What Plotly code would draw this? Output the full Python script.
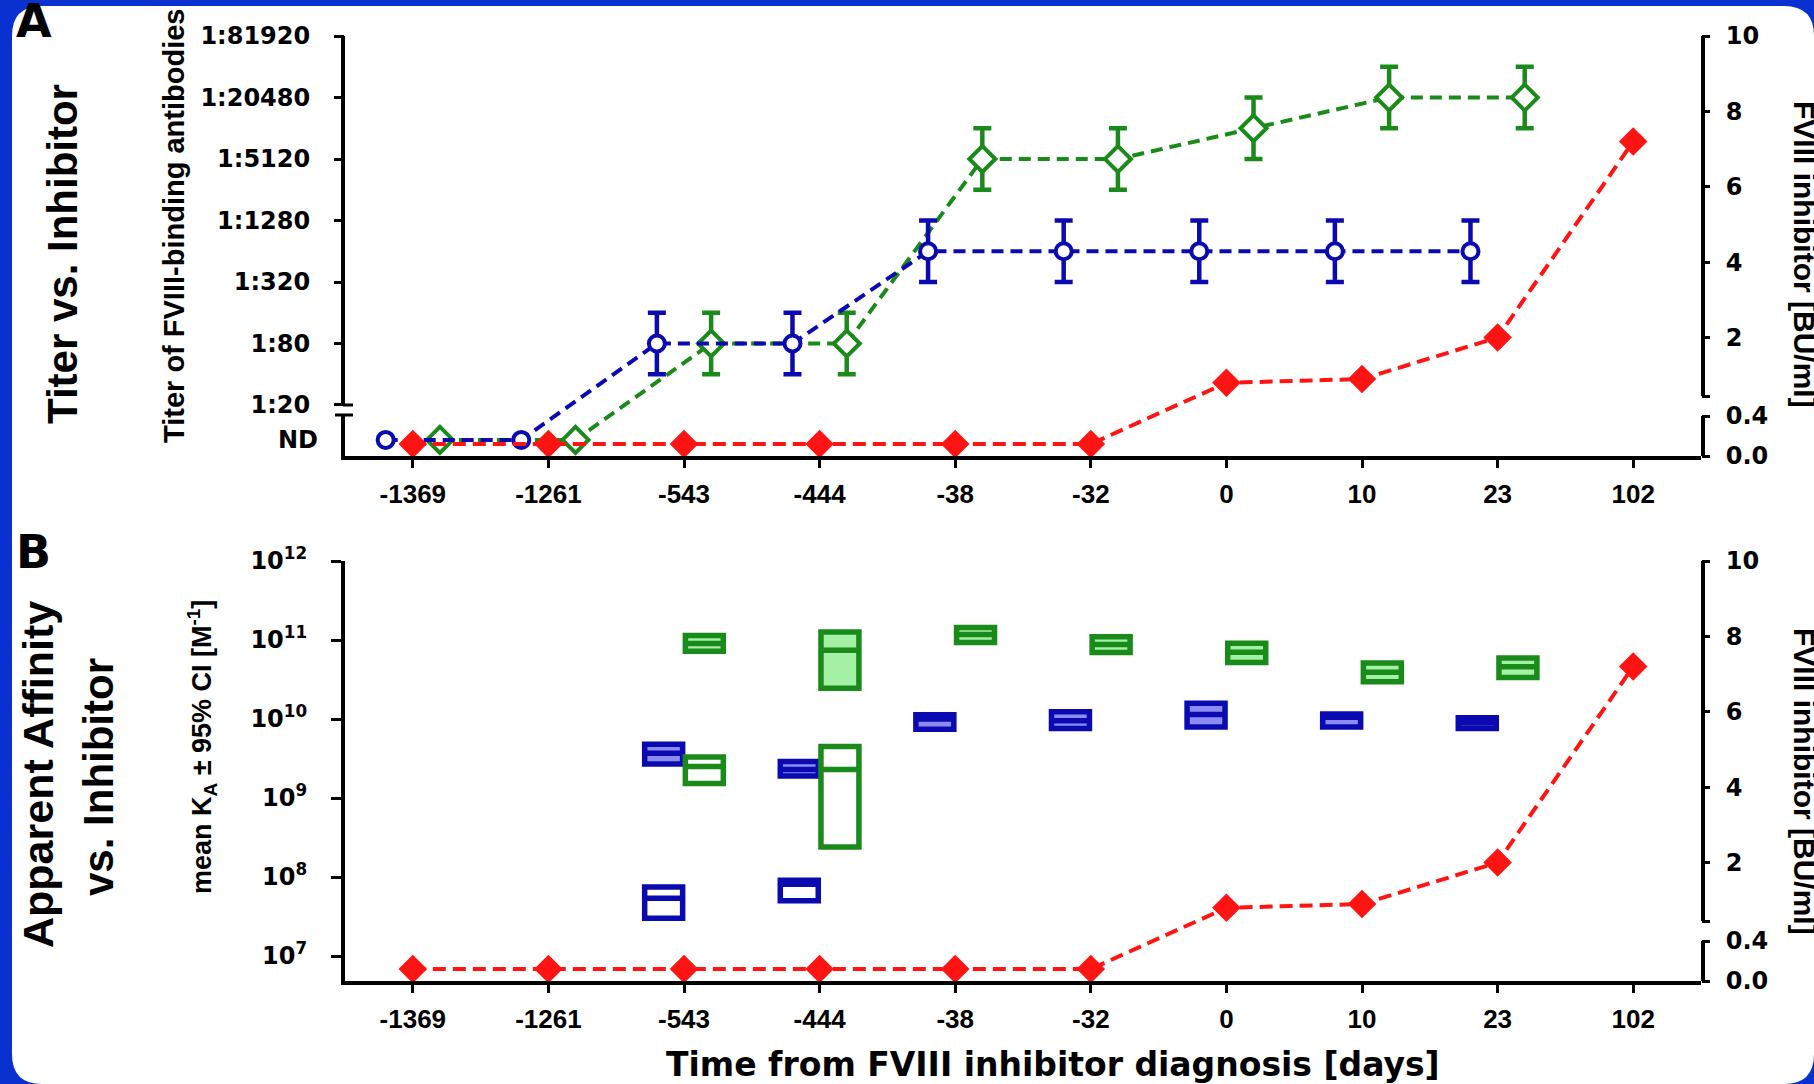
import math
import plotly.graph_objects as go

FIG_W, FIG_H = 1814, 1084

# ------------------------------------------------------------------ data
categories = ["-1369", "-1261", "-543", "-444", "-38", "-32", "0", "10", "23", "102"]

# Panel A: titer of FVIII-binding antibodies (reciprocal dilution); None = ND
titer_cats = ["-1369", "-1261", "-543", "-444", "-38", "-32", "0", "10", "23"]
titer_blue = [None, None, 80, 80, 640, 640, 640, 640, 640]
titer_blue_low = [None, None, 40, 40, 320, 320, 320, 320, 320]
titer_blue_high = [None, None, 160, 160, 1280, 1280, 1280, 1280, 1280]
titer_green = [None, None, 80, 80, 5120, 5120, 10240, 20480, 20480]
titer_green_low = [None, None, 40, 40, 2560, 2560, 5120, 10240, 10240]
titer_green_high = [None, None, 160, 160, 10240, 10240, 20480, 40960, 40960]

# FVIII inhibitor [BU/ml] (same series in both panels)
inhibitor = [0.12, 0.12, 0.12, 0.12, 0.12, 0.12, 0.8, 0.9, 2.0, 7.2]

titer_tickvals = [20, 80, 320, 1280, 5120, 20480, 81920]
titer_ticktext = ["1:20", "1:80", "1:320", "1:1280", "1:5120", "1:20480", "1:81920"]
inhib_tickvals = [0.0, 0.4, 2, 4, 6, 8, 10]
inhib_ticktext = ["0.0", "0.4", "2", "4", "6", "8", "10"]
ka_tickvals = [1e7, 1e8, 1e9, 1e10, 1e11, 1e12]
ka_ticktext = ["10<sup>7</sup>", "10<sup>8</sup>", "10<sup>9</sup>",
               "10<sup>10</sup>", "10<sup>11</sup>", "10<sup>12</sup>"]

# Panel B: apparent affinity KA, mean with 95% CI
ka_blue_fill_cats = ["-543", "-444", "-38", "-32", "0", "10", "23"]
ka_blue_fill_low = [2.7e9, 1.9e9, 7.4e9, 7.6e9, 7.9e9, 7.9e9, 7.6e9]
ka_blue_fill_mean = [3.7e9, 2.3e9, 1.0e10, 9.5e9, 1.14e10, 1.05e10, 9.0e9]
ka_blue_fill_high = [4.8e9, 2.9e9, 1.13e10, 1.24e10, 1.58e10, 1.16e10, 1.04e10]

ka_blue_open_cats = ["-543", "-444"]
ka_blue_open_low = [3.0e7, 5.0e7]
ka_blue_open_mean = [5.4e7, 8.1e7]
ka_blue_open_high = [7.5e7, 9.1e7]

ka_green_fill_cats = ["-543", "-444", "-38", "-32", "0", "10", "23"]
ka_green_fill_low = [7.2e10, 2.45e10, 9.3e10, 6.95e10, 5.2e10, 2.96e10, 3.35e10]
ka_green_fill_mean = [9.0e10, 7.4e10, 1.17e11, 8.8e10, 7.0e10, 3.9e10, 4.6e10]
ka_green_fill_high = [1.14e11, 1.26e11, 1.44e11, 1.1e11, 9.1e10, 5.1e10, 5.9e10]

ka_green_open_cats = ["-543", "-444"]
ka_green_open_low = [1.53e9, 2.4e8]
ka_green_open_mean = [2.5e9, 2.3e9]
ka_green_open_high = [3.3e9, 4.5e9]

# ------------------------------------------------------------------ style / layout constants
BLUE = "#0a0ab0"
GREEN = "#1a8a1a"
RED = "#ff1414"
BLUE_FILL = "#8c8cf4"
GREEN_FILL = "#a4f0a4"
FRAME_BLUE = "#0b30d0"

X_DOM = [345 / FIG_W, 1701 / FIG_W]
A_DOM = [1 - 456 / FIG_H, 1 - 36 / FIG_H]
B_DOM = [1 - 981 / FIG_H, 1 - 561 / FIG_H]
X_RANGE = [-0.5, 9.5]
A_LOG_RANGE = [0.8017, 4.9134]
B_LOG_RANGE = [6.684, 12.0]
ND_LEVEL = 9.1          # where "ND" is drawn, below the axis break
LEFT_GAP = 10 / 420     # size of the left-axis break (fraction of axis)
PT_OFF = 0.2            # blue left / green right of the category tick
BOX_OFF = 0.15
BOX_W = 0.28

# broken right axis: 0-0.4 lower segment, 0.45-10 upper segment
LOW_TOP, UP_BOTTOM, TOP = 0.4, 0.45, 10.0
LOW_FRAC, UP_FRAC = 40 / 420, 60 / 420


def inh(v):
    if v <= LOW_TOP:
        return v / LOW_TOP * LOW_FRAC
    return UP_FRAC + (v - UP_BOTTOM) / (TOP - UP_BOTTOM) * (1 - UP_FRAC)


def logfrac(v, rng):
    return (math.log10(v) - rng[0]) / (rng[1] - rng[0])


def px(x):
    return x / FIG_W


def py(y):
    return 1 - y / FIG_H


cat_idx = {c: i for i, c in enumerate(categories)}

TICKFONT = dict(family="DejaVu Sans", size=24, color="black", weight="bold")
XTICKFONT = dict(family="Liberation Sans, Arial", size=26, color="black", weight="bold")
SANS = "Liberation Sans, Arial"

fig = go.Figure()


def titer_series(vals, lows, highs, color, symbol, size, off):
    xs = [cat_idx[c] + off for c in titer_cats]
    ys = [v if v is not None else ND_LEVEL for v in vals]
    fig.add_trace(go.Scatter(x=xs, y=ys, mode="lines", xaxis="x", yaxis="y",
                             line=dict(color=color, width=4, dash="12px,7px"),
                             hoverinfo="skip"))
    mx = [x for x, v in zip(xs, vals) if v is not None]
    my = [v for v in vals if v is not None]
    ehi = [h - v for v, h in zip(vals, highs) if v is not None]
    elo = [v - l for v, l in zip(vals, lows) if v is not None]
    fig.add_trace(go.Scatter(x=mx, y=my, mode="markers", xaxis="x", yaxis="y",
                             marker=dict(symbol=symbol, size=size, color="white",
                                         line=dict(color=color, width=4)),
                             error_y=dict(type="data", symmetric=False, array=ehi,
                                          arrayminus=elo, color=color,
                                          thickness=4.5, width=9),
                             hoverinfo="skip"))
    nx = [x for x, v in zip(xs, vals) if v is None]
    ny = [ND_LEVEL for v in vals if v is None]
    fig.add_trace(go.Scatter(x=nx, y=ny, mode="markers", xaxis="x", yaxis="y",
                             marker=dict(symbol=symbol, size=size, color="white",
                                         line=dict(color=color, width=4)),
                             hoverinfo="skip"))


titer_series(titer_green, titer_green_low, titer_green_high, GREEN, "diamond", 20, PT_OFF)
titer_series(titer_blue, titer_blue_low, titer_blue_high, BLUE, "circle", 16, -PT_OFF)

for xa, ya in (("x", "y2"), ("x2", "y4")):
    fig.add_trace(go.Scatter(x=list(range(len(categories))),
                             y=[inh(v) for v in inhibitor],
                             mode="lines+markers", xaxis=xa, yaxis=ya,
                             line=dict(color=RED, width=4, dash="13px,7px"),
                             marker=dict(symbol="diamond", size=22, color=RED),
                             hoverinfo="skip"))


def boxes(cats, low, mean, high, off, line_color, fill):
    fig.add_trace(go.Box(x=[cat_idx[c] + off for c in cats], q1=low, median=mean,
                         q3=high, lowerfence=low, upperfence=high,
                         width=BOX_W, whiskerwidth=0, fillcolor=fill,
                         line=dict(color=line_color, width=5.5),
                         xaxis="x2", yaxis="y3", boxpoints=False, hoverinfo="skip"))


boxes(ka_blue_fill_cats, ka_blue_fill_low, ka_blue_fill_mean, ka_blue_fill_high,
      -BOX_OFF, BLUE, BLUE_FILL)
boxes(ka_blue_open_cats, ka_blue_open_low, ka_blue_open_mean, ka_blue_open_high,
      -BOX_OFF, BLUE, "white")
boxes(ka_green_fill_cats, ka_green_fill_low, ka_green_fill_mean, ka_green_fill_high,
      BOX_OFF, GREEN, GREEN_FILL)
boxes(ka_green_open_cats, ka_green_open_low, ka_green_open_mean, ka_green_open_high,
      BOX_OFF, GREEN, "white")

# ------------------------------------------------------------------ axes
common_x = dict(domain=X_DOM, range=X_RANGE, tickvals=list(range(len(categories))),
                ticktext=categories, ticks="outside", ticklen=8, tickwidth=3,
                tickcolor="black", showline=True, linewidth=4, linecolor="black",
                showgrid=False, zeroline=False, tickfont=XTICKFONT,
                ticklabelstandoff=4, fixedrange=True, automargin=False)
inh_axis = dict(side="right", range=[0, 1],
                tickvals=[inh(t) for t in inhib_tickvals] + [inh(UP_BOTTOM)],
                ticktext=inhib_ticktext + [""], ticks="outside", ticklen=8,
                tickwidth=3, tickcolor="black", showline=False, showgrid=False,
                zeroline=False, tickfont=TICKFONT, ticklabelstandoff=11,
                fixedrange=True, automargin=False)

fig.update_layout(
    width=FIG_W, height=FIG_H,
    margin=dict(l=0, r=0, t=0, b=0, pad=0, autoexpand=False),
    paper_bgcolor=FRAME_BLUE, plot_bgcolor="rgba(0,0,0,0)",
    showlegend=False, hovermode=False, boxmode="overlay",
    xaxis=dict(anchor="y", **common_x),
    xaxis2=dict(anchor="y3", **common_x),
    yaxis=dict(domain=A_DOM, type="log", range=A_LOG_RANGE, anchor="x",
               tickvals=titer_tickvals, ticktext=titer_ticktext, ticks="outside",
               ticklen=10, tickwidth=3, tickcolor="black", showline=False,
               showgrid=False, zeroline=False, tickfont=TICKFONT,
               ticklabelstandoff=19, fixedrange=True, automargin=False),
    yaxis2=dict(overlaying="y", anchor="x", **inh_axis),
    yaxis3=dict(domain=B_DOM, type="log", range=B_LOG_RANGE, anchor="x2",
                tickvals=ka_tickvals, ticktext=ka_ticktext, ticks="outside",
                ticklen=10, tickwidth=3, tickcolor="black", showline=True,
                linewidth=4, linecolor="black", showgrid=False, zeroline=False,
                tickfont=TICKFONT, ticklabelstandoff=19, fixedrange=True,
                automargin=False),
    yaxis4=dict(overlaying="y3", anchor="x2", **inh_axis),
)

# ------------------------------------------------------------------ frame and broken axis lines
x0, x1, y0, y1 = px(12), 1.0, 0.0, py(6)
rx, ry = 30 / FIG_W, 30 / FIG_H
frame_path = (f"M {x0 + rx},{y1} L {x1 - rx},{y1} Q {x1},{y1} {x1},{y1 - ry} "
              f"L {x1},{y0 + ry} Q {x1},{y0} {x1 - rx},{y0} L {x0 + rx},{y0} "
              f"Q {x0},{y0} {x0},{y0 + ry} L {x0},{y1 - ry} Q {x0},{y1} {x0 + rx},{y1} Z")
shapes = [dict(type="path", path=frame_path, xref="paper", yref="paper",
               fillcolor="white", line=dict(width=0), layer="below")]

axis_line = dict(color="black", width=4)
f20 = logfrac(titer_tickvals[0], A_LOG_RANGE)
# left axis of panel A (broken between 1:20 and ND)
for (a, b) in ((f20, 1.0), (-4 / 420, f20 - LEFT_GAP)):
    shapes.append(dict(type="line", xref="x domain", yref="y domain",
                       xsizemode="pixel", xanchor=0, x0=-2, x1=-2, y0=a, y1=b,
                       line=axis_line))
shapes.append(dict(type="line", xref="x domain", yref="y domain", xsizemode="pixel",
                   xanchor=0, x0=-2, x1=8, y0=f20, y1=f20, line=dict(color="black", width=3)))
shapes.append(dict(type="line", xref="x domain", yref="y domain", xsizemode="pixel",
                   xanchor=0, x0=-10, x1=8, y0=f20 - LEFT_GAP, y1=f20 - LEFT_GAP,
                   line=dict(color="black", width=3)))
# right axes (broken between 0.4 and the upper segment)
for xr, yr in (("x domain", "y2"), ("x2 domain", "y4")):
    for (a, b) in ((-4 / 420, LOW_FRAC), (UP_FRAC, 1.0)):
        shapes.append(dict(type="line", xref=xr, yref=yr, xsizemode="pixel",
                           xanchor=1, x0=2, x1=2, y0=a, y1=b, line=axis_line))

fig.update_layout(shapes=shapes)

# ------------------------------------------------------------------ texts
ann = []


def text(t, x, y, size, family, angle=0, xanchor="center", yref="paper", yval=None):
    ann.append(dict(text=t, x=px(x), y=py(y) if yval is None else yval,
                    xref="paper", yref=yref, showarrow=False, textangle=angle,
                    xanchor=xanchor, yanchor="middle",
                    font=dict(family=family, size=size, color="black", weight="bold")))


text("A", 34, 21, 46, "DejaVu Sans")
text("B", 33, 552, 46, "DejaVu Sans")
text("Titer vs. Inhibitor", 62, 254, 42, SANS, angle=-90)
text("Titer of FVIII-binding antibodies", 174, 226, 29, SANS, angle=-90)
text("Apparent Affinity", 38, 775, 43, SANS, angle=-90)
text("vs. Inhibitor", 98, 777, 42, SANS, angle=-90)
text("mean K<sub>A</sub> ± 95% CI [M<sup>-1</sup>]", 202, 747, 27, SANS, angle=-90)
text("FVIII inhibitor [BU/ml]", 1805, 254, 30, SANS, angle=90)
text("FVIII inhibitor [BU/ml]", 1805, 781, 30, SANS, angle=90)
text("Time from FVIII inhibitor diagnosis [days]", 1053, 1064, 33, "DejaVu Sans")
text("ND", 320, 0, 24, "DejaVu Sans", xanchor="right", yref="y",
     yval=math.log10(ND_LEVEL))

fig.update_layout(annotations=ann)

fig.write_html("out.html", config={"displayModeBar": False},
               post_script="document.body.style.margin='0';"
                           "document.body.style.background='" + FRAME_BLUE + "';")
